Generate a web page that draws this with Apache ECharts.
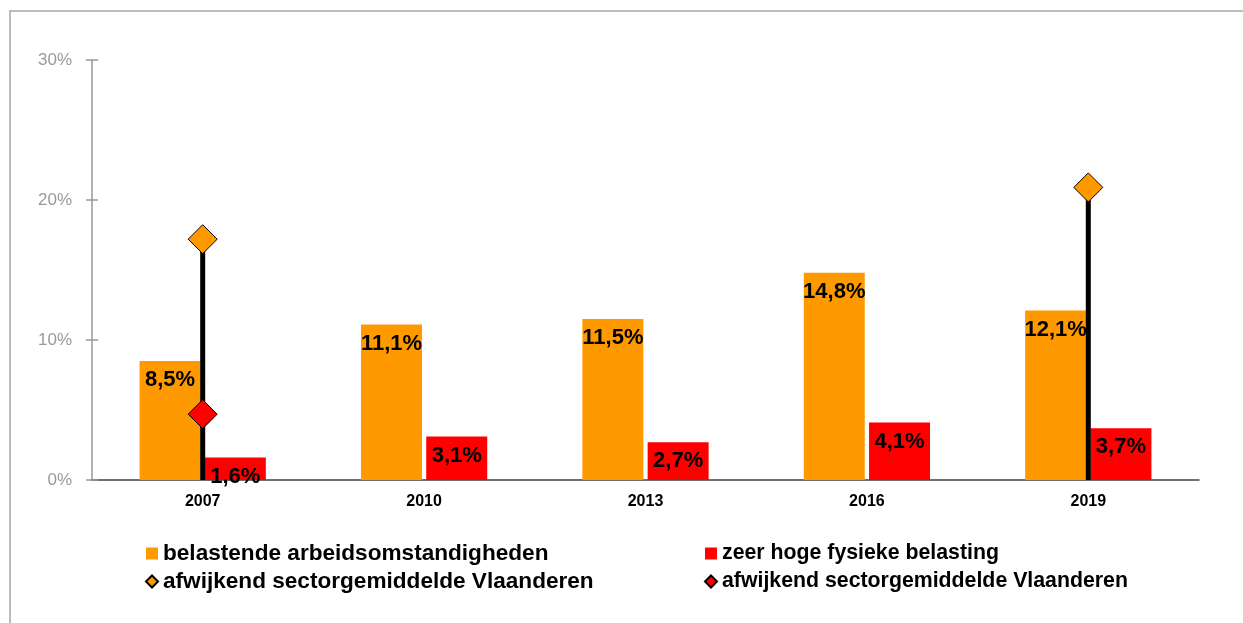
<!DOCTYPE html>
<html>
<head>
<meta charset="utf-8">
<title>belastende arbeidsomstandigheden</title>
<script src="https://cdn.jsdelivr.net/npm/echarts@6/dist/echarts.min.js"></script>
<style>
	html,body{margin:0;padding:0;background:#fff;}
	#main{width:1243px;height:623px;}
</style>
</head>
<body>
<div id="main"></div>
<script>
// jaren
var years = ['2007', '2010', '2013', '2016', '2019'];
// percentages per jaar
var belastend = [8.5, 11.1, 11.5, 14.8, 12.1];
var fysiek = [1.6, 3.1, 2.7, 4.1, 3.7];
// afwijkend sectorgemiddelde (alleen waar aanwezig)
var gemOranje = [17.2, '-', '-', '-', 20.9];
var gemRood = [4.7, '-', '-', '-', '-'];
var yTicks = [0, 10, 20, 30];

var nmBelast = 'belastende arbeidsomstandigheden';
var nmFysiek = 'zeer hoge fysieke belasting';
var nmGemO = 'afwijkend sectorgemiddelde Vlaanderen';
var nmGemR = 'afwijkend sectorgemiddelde Vlaanderen ';

var chart = echarts.init(document.getElementById('main'));

var font = 'Arial, "Liberation Sans", sans-serif';

function pct(p) {
	return String(p.value).replace('.', ',') + '%';
}

var barLabel = {
	show: true,
	position: 'insideTop',
	distance: 8,
	color: '#000',
	fontWeight: 'bold',
	fontSize: 22,
	fontFamily: font,
	formatter: pct
};

var option = {
	animation: false,
	backgroundColor: '#fff',
	graphic: [{
		type: 'rect',
		shape: {x: 10, y: 11, width: 1300, height: 700},
		style: {fill: 'none', stroke: '#a6a6a6', lineWidth: 1.5}
	}],
	grid: {left: 92, top: 60, right: 44, bottom: 143},
	legend: [{
		orient: 'vertical',
		left: 140, top: 537,
		itemWidth: 12, itemHeight: 12, itemGap: 5,
		textStyle: {color: '#000', fontWeight: 'bold', fontSize: 22.6, fontFamily: font},
		formatter: function (n) { return n.trim(); },
		data: [{name: nmBelast, icon: 'rect'}, {name: nmGemO}]
	}, {
		orient: 'vertical',
		left: 699, top: 538,
		itemWidth: 12, itemHeight: 12, itemGap: 7,
		textStyle: {color: '#000', fontWeight: 'bold', fontSize: 21.3, fontFamily: font},
		formatter: function (n) { return n.trim(); },
		data: [{name: nmFysiek, icon: 'rect'}, {name: nmGemR}]
	}],
	xAxis: [{
		type: 'category',
		data: years,
		axisLine: {lineStyle: {color: '#404040', width: 1.5}},
		axisTick: {show: false},
		axisLabel: {
			color: '#000', fontWeight: 'bold', fontSize: 16, margin: 14,
			fontFamily: font
		}
	}, {
		// verborgen as voor de zwarte verbindingslijn
		type: 'category',
		data: years,
		show: false
	}],
	yAxis: [{
		type: 'value',
		min: 0, max: 30, interval: 10,
		splitLine: {show: false},
		axisLine: {show: true, lineStyle: {color: '#999', width: 1.5}},
		axisTick: {show: true, length: 6, lineStyle: {color: '#999', width: 1.5}},
		axisLabel: {
			color: '#999', fontSize: 17, margin: 20,
			fontFamily: font,
			formatter: function (v) { return yTicks.indexOf(v) >= 0 ? v + '%' : ''; }
		}
	}, {
		// binnenste helft van de kruisende streepjes
		type: 'value',
		position: 'left',
		min: 0, max: 30, interval: 10,
		splitLine: {show: false},
		axisLine: {show: false},
		axisLabel: {show: false},
		axisTick: {show: true, inside: true, length: 6, lineStyle: {color: '#999', width: 1.5}}
	}],
	series: [{
		name: nmBelast,
		type: 'bar',
		data: belastend,
		barWidth: 61,
		barGap: '7%',
		itemStyle: {color: '#FF9900'},
		label: barLabel,
		z: 2
	}, {
		name: nmFysiek,
		type: 'bar',
		data: fysiek,
		barWidth: 61,
		itemStyle: {color: '#FF0000'},
		label: barLabel,
		z: 2
	}, {
		name: 'lijn',
		type: 'bar',
		xAxisIndex: 1,
		data: gemOranje,
		barWidth: 5,
		itemStyle: {color: '#000'},
		silent: true,
		z: 3
	}, {
		name: nmGemO,
		type: 'scatter',
		data: gemOranje,
		symbol: 'diamond',
		symbolSize: [29, 29],
		itemStyle: {color: '#FF9900', opacity: 1, borderColor: '#000', borderWidth: 1},
		z: 4
	}, {
		name: nmGemR,
		type: 'scatter',
		data: gemRood,
		symbol: 'diamond',
		symbolSize: [29, 29],
		itemStyle: {color: '#FF0000', opacity: 1, borderColor: '#000', borderWidth: 1},
		z: 4
	}]
};

chart.setOption(option);
</script>
</body>
</html>
